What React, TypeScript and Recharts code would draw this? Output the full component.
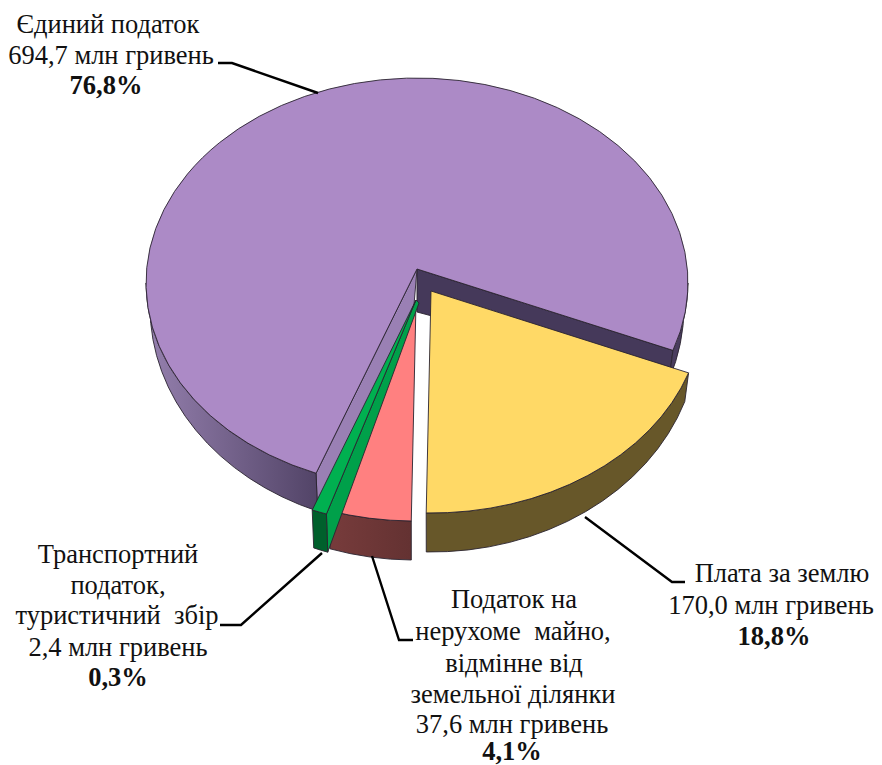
import React from "react";
import { PieChart, Pie } from "recharts";

const categories = ["Єдиний податок", "Плата за землю", "Податок на нерухоме майно, відмінне від земельної ділянки", "Транспортний податок, туристичний збір"];
const amounts = [694.7, 170.0, 37.6, 2.4];
const amountLabels = ["694,7 млн гривень", "170,0 млн гривень", "37,6 млн гривень", "2,4 млн гривень"];
const shareLabels = ["76,8%", "18,8%", "4,1%", "0,3%"];
const nameLines = [["Єдиний податок"], ["Плата за землю"], ["Податок на", "нерухоме  майно,", "відмінне від", "земельної ділянки"], ["Транспортний", "податок,", "туристичний  збір"]];

const tableData = categories.map((name, i) => ({ name, value: amounts[i] }));

const W = 882, H = 765;
const RX = 271, RY = 205, RXB = 267, RYB = 220, DB = 24;

const topColors = ["#AC8AC6", "#FFD966", "#FF8080", "#00B050"];
const wallColors = ["url(#purpleWall)", "#675729", "url(#pinkWall)", "#00602C"];

const geometry = [
  { ax: 417, ay: 269, cx: 417, cy: 283 },
  { ax: 431, ay: 291, cx: 431.5, cy: 308 },
  { ax: 416, ay: 302, cx: 414, cy: 316 },
  { ax: 416, ay: 300, cx: 414, cy: 320 },
];

const labelLayout = [
  { xs: [108, 111, 106], ys: [33, 64, 94] },
  { xs: [782, 771, 774], ys: [582, 614, 645] },
  { xs: [514, 513, 514, 513, 512, 512], ys: [608, 640, 672, 703, 733, 760] },
  { xs: [118, 118, 117, 118, 118], ys: [563, 594, 624, 656, 686] },
];
const leaderLines = [
  "M218,63 L232,63 L318,93",
  "M585,517 L672,582 L685,582",
  "M372,556 L399,640 L413,640",
  "M322,553 L241,625 L220,625",
];

const rad = (d: number) => (d * Math.PI) / 180;

function rimAngle(g: any, theta: number) {
  const px = (g.ax - g.cx) / RX, py = (g.ay - g.cy) / RY;
  const vx = Math.cos(rad(theta)), vy = Math.sin(rad(theta));
  const b = px * vx + py * vy;
  const s = -b + Math.sqrt(b * b - (px * px + py * py) + 1);
  let t = (Math.atan2(py + s * vy, px + s * vx) * 180) / Math.PI;
  while (t < theta - 90) t += 360;
  return t;
}

function slicePaths(g: any, theta0: number, theta1: number) {
  const t0 = rimAngle(g, theta0), t1 = rimAngle(g, theta1);
  const top = (t: number): [number, number] => [g.cx + RX * Math.cos(rad(t)), g.cy + RY * Math.sin(rad(t))];
  const bot = (t: number): [number, number] => [g.cx + RXB * Math.cos(rad(t)), g.cy + DB + RYB * Math.sin(rad(t))];
  const large = t1 - t0 > 180 ? 1 : 0;
  const [x0, y0] = top(t0);
  const [x1, y1] = top(t1);
  const face = `M${g.ax},${g.ay} L${x0},${y0} A${RX},${RY} 0 ${large} 1 ${x1},${y1} Z`;
  const walls: string[] = [];
  for (const [a, b] of [[0, 180], [360, 540]]) {
    const lo = Math.max(t0, a), hi = Math.min(t1, b);
    if (hi <= lo) continue;
    const [ax, ay] = top(lo), [bx, by] = top(hi), [cx, cy] = bot(hi), [dx, dy] = bot(lo);
    walls.push(`M${ax},${ay} A${RX},${RY} 0 0 1 ${bx},${by} L${cx},${cy} A${RXB},${RYB} 0 0 0 ${dx},${dy} Z`);
  }
  return { face, walls, top, bot, t0, t1 };
}

function SliceShape(props: any) {
  const i = props.index ?? categories.indexOf(props.name);
  const g = geometry[i];
  const { face, walls, top, bot, t0, t1 } = slicePaths(g, -props.startAngle, -props.endAngle);
  const stroke = "#2a2430";
  const sw = 0.9;
  const extras: React.ReactNode[] = [];
  if (i === 0) {
    const a = top(t1), b = bot(t1), c = top(t0), d = bot(t0);
    extras.push(<path key="in1" d={`M${g.ax},${g.ay} L${a[0]},${a[1]} L${b[0]},${b[1]} L417,312 Z`} fill="#45395A" stroke={stroke} strokeWidth={sw} />);
    extras.push(<path key="in2" d={`M${g.ax},${g.ay} L${c[0]},${c[1]} L${d[0]},${d[1]} L414,305 Z`} fill="#9A80B4" stroke={stroke} strokeWidth={sw} />);
  }
  if (i === 3) {
    const a = top(t0), b = bot(t0);
    extras.push(<path key="in3" d={`M${g.ax},${g.ay} L${a[0]},${a[1]} L${b[0]},${b[1]} L${g.ax + 3},${g.ay + 3} Z`} fill="#00A04A" stroke={stroke} strokeWidth={sw} />);
  }
  return (
    <g>
      {i === 0 && (
        <defs>
          <linearGradient id="purpleWall" gradientUnits="userSpaceOnUse" x1={146} x2={325} y1={0} y2={0}>
            <stop offset="0" stopColor="#9580AE" />
            <stop offset="1" stopColor="#4F4164" />
            <stop offset="1" stopColor="#4A3D5E" />
          </linearGradient>
          <linearGradient id="pinkWall" gradientUnits="userSpaceOnUse" x1={335} x2={410} y1={0} y2={0}>
            <stop offset="0" stopColor="#763B3B" />
            <stop offset="1" stopColor="#643232" />
          </linearGradient>
        </defs>
      )}
      {extras}
      {walls.map((d, k) => (
        <path key={k} d={d} fill={wallColors[i]} stroke={stroke} strokeWidth={sw} />
      ))}
      <path d={face} fill={topColors[i]} stroke={stroke} strokeWidth={sw} strokeLinejoin="round" />
    </g>
  );
}

function SliceLabel(props: any) {
  const i = props.index;
  const layout = labelLayout[i];
  const lines = [...nameLines[i], amountLabels[i], shareLabels[i]];
  return (
    <text fontFamily="'Liberation Serif', serif" fontSize={26.5} fill="#111" textAnchor="middle" style={{ whiteSpace: "pre" }}>
      {lines.map((line, k) => (
        <tspan key={k} x={layout.xs[k]} y={layout.ys[k]} fontWeight={k === lines.length - 1 ? 700 : 400}>
          {line}
        </tspan>
      ))}
    </text>
  );
}

function SliceLeader(props: any) {
  return <path d={leaderLines[props.index]} fill="none" stroke="#000" strokeWidth={2.4} />;
}

export default function App() {
  return (
    <div style={{ position: "absolute", left: 0, top: 0, width: W, height: H, background: "#fff" }}>
      <PieChart width={W} height={H} margin={{ top: 0, right: 0, bottom: 0, left: 0 }}>
        <Pie
          data={tableData}
          dataKey="value"
          nameKey="name"
          cx={417}
          cy={283}
          innerRadius={0}
          outerRadius={RX}
          startAngle={-110.5}
          endAngle={-470.5}
          minAngle={2}
          paddingAngle={0}
          stroke="none"
          isAnimationActive={false}
          shape={SliceShape as any}
          label={SliceLabel as any}
          labelLine={SliceLeader as any}
        />
      </PieChart>
    </div>
  );
}
